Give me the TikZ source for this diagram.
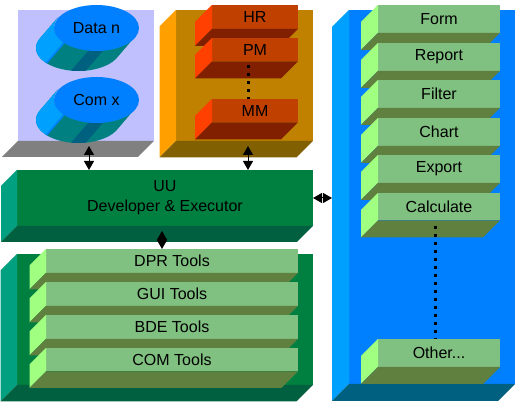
\documentclass[tikz,border=0pt]{standalone}
\usepackage{fontspec}
\setmainfont{Liberation Sans}
\usetikzlibrary{calc,arrows.meta,shapes.geometric}
\definecolor{fG}{HTML}{008040}\definecolor{lG}{HTML}{00A080}\definecolor{bG}{HTML}{006040}
\definecolor{fT}{HTML}{80C080}\definecolor{lT}{HTML}{A0FF80}\definecolor{bT}{HTML}{608040}
\definecolor{fO}{HTML}{C08000}\definecolor{lO}{HTML}{FFA000}\definecolor{bO}{HTML}{806000}
\definecolor{fR}{HTML}{C04000}\definecolor{lR}{HTML}{FF4000}\definecolor{bR}{HTML}{802000}
\definecolor{fB}{HTML}{0080FF}\definecolor{lB}{HTML}{00A0FF}\definecolor{bB}{HTML}{006080}
\definecolor{fL}{HTML}{C0C0FF}\definecolor{lL}{HTML}{FFFFFF}\definecolor{bL}{HTML}{808080}
\definecolor{cT}{HTML}{008080}
\tikzset{
  face/.style={inner sep=0pt, outer sep=0pt, align=center, text=black,
    font=\fontsize{16}{20}\selectfont},
  dbl/.style={{Triangle[width=10pt,length=9pt]}-{Triangle[width=10pt,length=9pt]}, line width=1pt, black},
  dotline/.style={line width=3pt, dash pattern=on 3pt off 5pt, black}
}
% #1 name #2 x #3 y #4 w #5 h #6 palette #7 depth #8 text
\newcommand\blk[8]{%
  \node[face, fill=f#6, minimum width=#4pt, minimum height=#5pt, anchor=north west] (#1) at (#2,#3) {#8};
  \fill[l#6] (#1.north west) -- (#1.south west) -- ++(-#7,#7) -- ($(#1.north west)+(-#7,#7)$) -- cycle;
  \fill[b#6] (#1.south west) -- (#1.south east) -- ++(-#7,#7) -- ($(#1.south west)+(-#7,#7)$) -- cycle;
}
% cylinder side segment: #1 cx #2 cy #3 from #4 to #5 colour
\newcommand\cylseg[5]{%
  \fill[#5] plot[domain=#3:#4,samples=40] ({#1+42.5*cos(\x)},{#2+23*sin(\x)})
    -- plot[domain=#4:#3,samples=40] ({#1-18+42.5*cos(\x)},{#2+21+23*sin(\x)}) -- cycle;
}
\newcommand\cylbody[2]{%
  \cylseg{#1}{#2}{24.9}{204.9}{cT}
  \cylseg{#1}{#2}{140}{204.9}{lB}
  \cylseg{#1}{#2}{137.5}{140}{fB}
  \cylseg{#1}{#2}{80}{100}{bB}
}
\begin{document}
\begin{tikzpicture}[x=1pt,y=-1pt]
\useasboundingbox (0,0) rectangle (515,403);
% lavender panel
\node[face, fill=fL, minimum width=136pt, minimum height=131pt, anchor=north west] (lav) at (18,10) {};
\fill[bL] (lav.south west) -- (lav.south east) -- ++(-16,16) -- ($(lav.south west)+(-16,16)$) -- cycle;
% cylinders
\cylbody{96.5}{27}
\node[face, ellipse, fill=fB, minimum width=85pt, minimum height=46pt] (datan) at (96.5,28) {Data n};
\cylbody{96.5}{99}
\node[face, ellipse, fill=fB, minimum width=85pt, minimum height=46pt] (comx) at (96.5,100) {Com x};
% orange panel
\blk{org}{176}{10}{137}{131}{O}{16.5}{}
\blk{hr}{212}{5}{86}{24}{R}{17}{HR}
\blk{pm}{212}{38}{86}{23.5}{R}{17}{PM}
\draw[dotline] (248,65) -- (248,100);
\blk{mm}{212}{99}{86}{23.5}{R}{17}{MM}
% UU
\blk{uu}{17}{170}{296}{56}{G}{16}{UU\\Developer \& Executor}
% tools
\blk{tools}{17}{254}{296}{131}{G}{16.5}{}
\blk{dpr}{46}{249}{252}{24}{T}{16.5}{DPR Tools}
\blk{gui}{46}{282}{252}{24}{T}{16.5}{GUI Tools}
\blk{bde}{46}{315}{252}{24}{T}{16.5}{BDE Tools}
\blk{com}{46}{348}{252}{23.5}{T}{16.5}{COM Tools}
% blue panel
\blk{blue}{349}{10}{166}{374}{B}{17}{}
\blk{form}{378}{5}{122}{28}{T}{17}{Form}
\blk{report}{378}{43}{122}{28}{T}{17}{Report}
\blk{filter}{378}{80}{122}{28}{T}{17}{Filter}
\blk{chart}{378}{118}{122}{28}{T}{17}{Chart}
\blk{export}{378}{155}{122}{28}{T}{17}{Export}
\blk{calc}{378}{193}{122}{27.5}{T}{17}{Calculate}
\draw[dotline] (435,226) -- (435,340);
\blk{other}{378}{339}{122}{28}{T}{17}{Other...}
% arrows
\coordinate (a1) at (89,146);
\coordinate (a2) at (248,146);
\coordinate (a3) at (332,198);
\coordinate (a4) at (162,231);
\draw[dbl] (a1) -- (a1 |- uu.north);
\draw[dbl] (a2) -- (a2 |- uu.north);
\draw[dbl] (uu.east) -- (a3);
\draw[dbl] (a4) -- (a4 |- dpr.north);
\end{tikzpicture}
\end{document}
